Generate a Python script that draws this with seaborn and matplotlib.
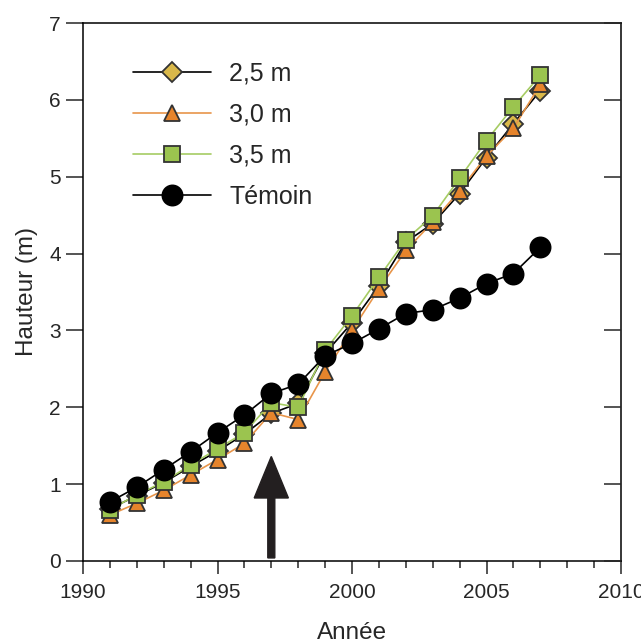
import numpy as np
import pandas as pd
import matplotlib
matplotlib.use("Agg")
import matplotlib.pyplot as plt
from matplotlib.ticker import MultipleLocator
import seaborn as sns

# Data
years = list(range(1991, 2008))
h_25 = [0.68, 0.85, 1.02, 1.23, 1.43, 1.65, 1.92, 2.05, 2.70, 3.10, 3.58, 4.15, 4.39, 4.78, 5.25, 5.69, 6.12]
h_30 = [0.60, 0.75, 0.92, 1.12, 1.32, 1.53, 1.93, 1.84, 2.46, 3.00, 3.54, 4.04, 4.41, 4.82, 5.27, 5.63, 6.20]
h_35 = [0.67, 0.86, 1.03, 1.25, 1.46, 1.67, 2.06, 2.00, 2.74, 3.19, 3.69, 4.18, 4.49, 4.98, 5.47, 5.91, 6.32]
temoin = [0.77, 0.96, 1.19, 1.42, 1.67, 1.90, 2.18, 2.30, 2.67, 2.83, 3.02, 3.22, 3.27, 3.42, 3.61, 3.74, 4.08]
labels = ["2,5 m", "3,0 m", "3,5 m", "Témoin"]
arrow_year = 1997

sns.set_style("ticks")
plt.rcParams["font.family"] = ["Liberation Sans", "DejaVu Sans"]

df = pd.DataFrame({"year": years, "h25": h_25, "h30": h_30, "h35": h_35, "temoin": temoin})

fig = plt.figure(figsize=(6.41, 6.44), dpi=100)
ax = fig.add_axes([83 / 641, 1 - 561 / 644, 538 / 641, 538 / 644])

edge = "#333333"
# series styles: (column, marker, line colour, face colour, marker size)
styles = [
    ("h25", "D", "black", "#D9B84A", 10.5),
    ("h30", "^", "#E8954A", "#E6842C", 12),
    ("h35", "s", "#A6CC63", "#9BC44F", 12),
    ("temoin", "o", "black", "black", 14.5),
]
for (col, mk, lc, fc, ms), lab in zip(styles, labels):
    sns.lineplot(data=df, x="year", y=col, ax=ax, color=lc, linewidth=1.2,
                 marker=mk, markersize=ms, markerfacecolor=fc,
                 markeredgecolor=edge if col != "temoin" else "black",
                 markeredgewidth=1.3, label=lab)

# arrow marking the treatment year
ax.arrow(arrow_year, 0.04, 0, 1.32, width=0.26, head_width=1.27, head_length=0.54,
         length_includes_head=True, color="#231f20", zorder=5)

ax.set_xlim(1990, 2010)
ax.set_ylim(0, 7)
ax.xaxis.set_major_locator(MultipleLocator(5))
ax.xaxis.set_minor_locator(MultipleLocator(1))
ax.yaxis.set_major_locator(MultipleLocator(1))

for sp in ax.spines.values():
    sp.set_visible(True)
    sp.set_linewidth(1.1)
    sp.set_color("black")

ax.tick_params(axis="x", which="major", length=9, width=1.1, labelsize=15, pad=7, direction="out")
ax.tick_params(axis="x", which="minor", length=5, width=1.1, direction="out")
ax.tick_params(axis="y", which="major", length=12, width=1.1, labelsize=15, pad=4, direction="out")

# inward ticks on the right side
ax2 = ax.twinx()
ax2.set_ylim(0, 7)
ax2.yaxis.set_major_locator(MultipleLocator(1))
ax2.tick_params(axis="y", direction="in", length=12, width=1.1, labelright=False)
for sp in ax2.spines.values():
    sp.set_visible(False)

ax.set_xlabel("Année", fontsize=17.5, labelpad=14)
ax.set_ylabel("Hauteur (m)", fontsize=17.5, labelpad=8)

ax.legend(loc="upper left", bbox_to_anchor=(0.093, 0.928), frameon=False, fontsize=18,
          handlelength=3.1, handletextpad=0.75, labelspacing=0.68, borderpad=0, borderaxespad=0)

fig.savefig("out.png", dpi=100)
